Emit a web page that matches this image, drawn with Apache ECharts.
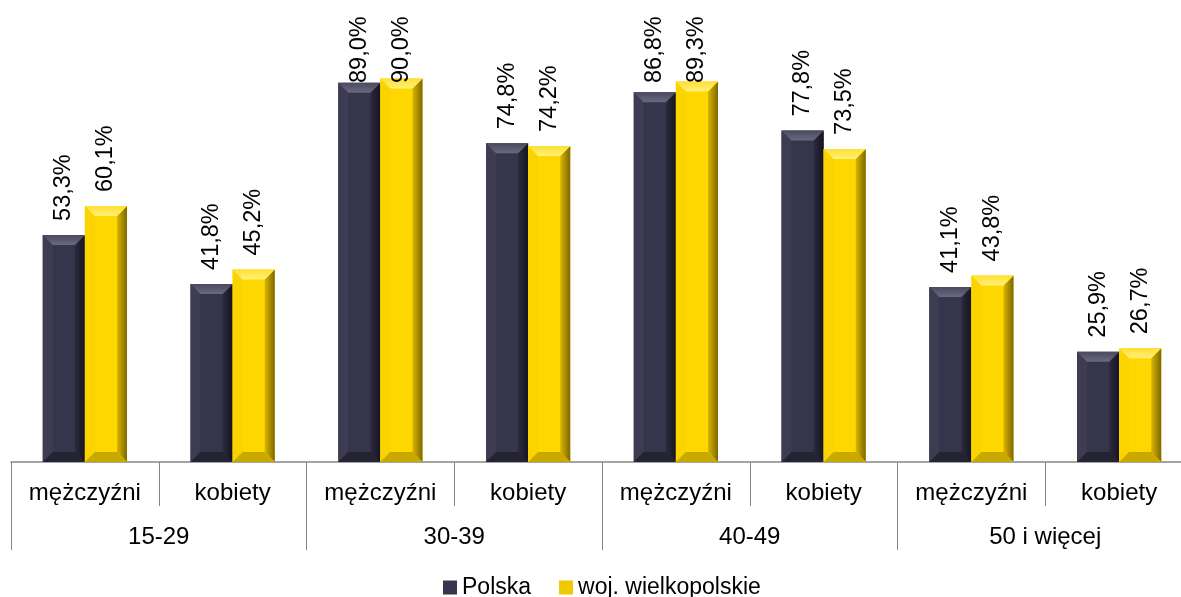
<!DOCTYPE html>
<html>
<head>
<meta charset="utf-8">
<script src="https://cdn.jsdelivr.net/npm/echarts@6/dist/echarts.min.js"></script>
<style>html,body{margin:0;padding:0;background:#fff;overflow:hidden;width:1181px;height:597px}#c{width:1193px;height:597px}</style>
</head>
<body>
<div id="c"></div>
<script>
const categories = ['mężczyźni','kobiety','mężczyźni','kobiety','mężczyźni','kobiety','mężczyźni','kobiety'];
const groups = ['15-29','30-39','40-49','50 i więcej'];
const seriesNames = ['Polska','woj. wielkopolskie'];
const polska = [53.3, 41.8, 89.0, 74.8, 86.8, 77.8, 41.1, 25.9];
const wielkopolskie = [60.1, 45.2, 90.0, 74.2, 89.3, 73.5, 43.8, 26.7];

const FONT = 'Liberation Sans, Arial, sans-serif';
const palettes = [
  {face:'#36354b', topA:'#4a495f', topB:'#6a6981', left:'#3d3c53', rightA:'#2c2b3e', rightB:'#15141f', bottom:'#242334', legend:'#36354b'},
  {face:'#ffd700', topA:'#ffe030', topB:'#fff07a', left:'#fbd400', rightA:'#d9b500', rightB:'#7d6800', bottom:'#c9a800', legend:'#f0c800'}
];
const G = echarts.graphic;

function makeRender(sIdx){
  const p = palettes[sIdx];
  return function(params, api){
    const idx = api.value(0), v = api.value(1);
    const top = api.coord([idx, v]);
    const base = api.coord([idx, 0]);
    const band = api.size([1, 0])[0];
    const bw = band * 0.285;
    const x0 = top[0] + (sIdx === 0 ? -bw : 0);
    const x1 = x0 + bw;
    const y0 = top[1], y1 = base[1];
    const b = Math.min(10, (y1 - y0) / 2);
    const txt = v.toFixed(1).replace('.', ',') + '%';
    return {
      type: 'group',
      children: [
        {type:'rect', shape:{x:x0, y:y0, width:bw, height:y1-y0}, style:{fill:p.face}},
        {type:'polygon', shape:{points:[[x0,y0],[x0+b,y0+b],[x0+b,y1-b],[x0,y1]]}, style:{fill:p.left}},
        {type:'polygon', shape:{points:[[x1,y0],[x1,y1],[x1-b,y1-b],[x1-b,y0+b]]},
          style:{fill:new G.LinearGradient(0,0,1,0,[{offset:0,color:p.rightA},{offset:1,color:p.rightB}])}},
        {type:'polygon', shape:{points:[[x0,y1],[x0+b,y1-b],[x1-b,y1-b],[x1,y1]]}, style:{fill:p.bottom}},
        {type:'polygon', shape:{points:[[x0,y0],[x1,y0],[x1-b,y0+b],[x0+b,y0+b]]},
          style:{fill:new G.LinearGradient(0,0,0,1,[{offset:0,color:p.topA},{offset:1,color:p.topB}])}},
        {type:'text', x:x0 + bw/2, y:Math.max(y0 - 14, 83), rotation:Math.PI/2,
          style:{text:txt, fontSize:23.5, fontFamily:FONT, fill:'#000', align:'left', verticalAlign:'middle'}}
      ]
    };
  };
}

const chart = echarts.init(document.getElementById('c'), null, {renderer:'canvas'});
const axisColor = '#868686';
chart.setOption({
  animation: false,
  backgroundColor: '#ffffff',
  grid: {left: 11, right: 0, top: 36, bottom: 135, containLabel: false},
  legend: {
    data: seriesNames.map(n => ({name:n, icon:'rect'})),
    left: 438, top: 571, itemWidth: 14, itemHeight: 14, itemGap: 28,
    textStyle: {fontSize: 23, fontFamily: FONT, color: '#000'}
  },
  xAxis: [
    {type:'category', data:categories, position:'bottom',
      axisLine:{show:true, lineStyle:{color:axisColor, width:1.5}},
      axisTick:{show:true, interval:0, length:44, lineStyle:{color:axisColor, width:1}},
      axisLabel:{interval:0, margin:19, fontSize:24, fontFamily:FONT, color:'#000'},
      splitLine:{show:false}},
    {type:'category', data:groups, position:'bottom',
      axisLine:{show:false},
      axisTick:{show:true, interval:0, length:88, lineStyle:{color:axisColor, width:1}},
      axisLabel:{interval:0, margin:63, fontSize:24, fontFamily:FONT, color:'#000'},
      splitLine:{show:false}}
  ],
  yAxis: {type:'value', min:0, max:100, show:false},
  series: [
    {name:seriesNames[0], type:'custom', xAxisIndex:0, yAxisIndex:0,
      itemStyle:{color:palettes[0].legend}, renderItem:makeRender(0),
      encode:{x:0, y:1}, data:polska.map((v,i)=>[i,v])},
    {name:seriesNames[1], type:'custom', xAxisIndex:0, yAxisIndex:0,
      itemStyle:{color:palettes[1].legend}, renderItem:makeRender(1),
      encode:{x:0, y:1}, data:wielkopolskie.map((v,i)=>[i,v])}
  ]
});
</script>
</body>
</html>
